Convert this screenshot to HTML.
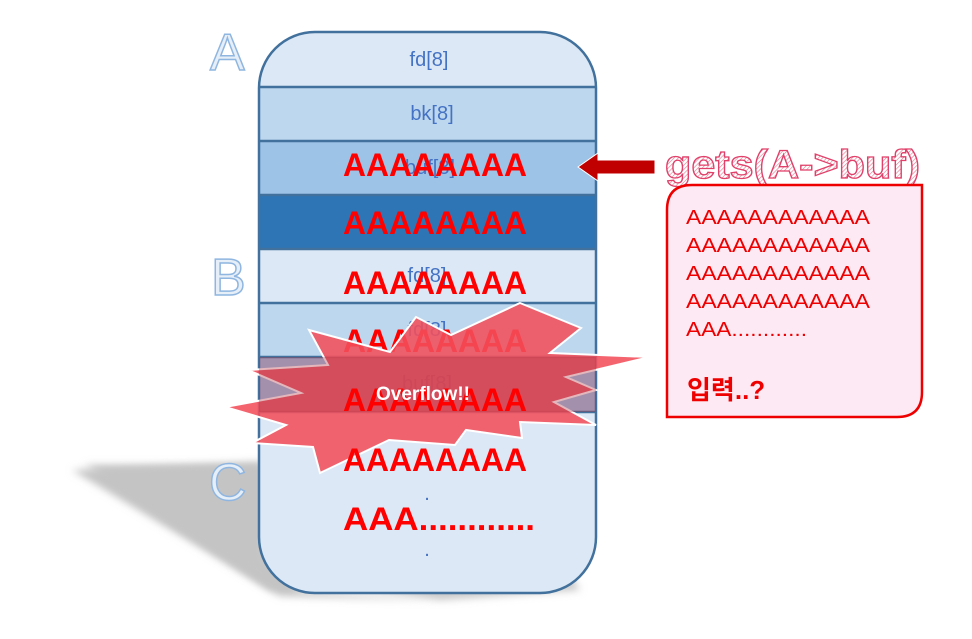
<!DOCTYPE html>
<html><head><meta charset="utf-8"><style>
html,body{margin:0;padding:0;background:#fff;width:972px;height:639px;overflow:hidden}
svg{display:block}
text{font-family:"Liberation Sans","Noto Sans CJK KR",sans-serif}
</style></head><body>
<svg width="972" height="639" viewBox="0 0 972 639" xmlns="http://www.w3.org/2000/svg">
<defs>
<clipPath id="box"><rect x="259" y="32" width="337" height="561" rx="56"/></clipPath>
<filter id="blur"><feGaussianBlur stdDeviation="4"/></filter>
<pattern id="hatch" width="3" height="3" patternUnits="userSpaceOnUse" patternTransform="rotate(45)"><rect width="3" height="3" fill="#fff"/><line x1="0" y1="0" x2="0" y2="3" stroke="#e07a90" stroke-width="1.2"/></pattern>
</defs>
<polygon points="85,465 260,465 300,580 440,600 580,590 560,560 270,590" fill="#c8c8c8" filter="url(#blur)"/>
<polygon points="72,470 262,462 262,560 300,590 430,600 280,596" fill="#c4c4c4" filter="url(#blur)"/>
<g clip-path="url(#box)">
<rect x="259" y="32" width="337" height="561" fill="#dce8f5"/>
<rect x="259" y="87" width="337" height="54" fill="#bdd7ee"/>
<rect x="259" y="141" width="337" height="54" fill="#9dc3e6"/>
<rect x="259" y="195" width="337" height="54" fill="#2e75b6"/>
<rect x="259" y="249" width="337" height="54" fill="#dce8f5"/>
<rect x="259" y="303" width="337" height="54" fill="#bdd7ee"/>
<rect x="259" y="357" width="337" height="55" fill="#9dc3e6"/>
<g stroke="#41719c" stroke-width="2.5">
<line x1="259" y1="87" x2="596" y2="87"/><line x1="259" y1="141" x2="596" y2="141"/>
<line x1="259" y1="195" x2="596" y2="195"/><line x1="259" y1="249" x2="596" y2="249"/>
<line x1="259" y1="303" x2="596" y2="303"/><line x1="259" y1="357" x2="596" y2="357"/>
<line x1="259" y1="412" x2="596" y2="412"/>
</g>
</g>
<rect x="259" y="32" width="337" height="561" rx="56" fill="none" stroke="#41719c" stroke-width="2.5"/>
<g fill="#4472c4" font-size="20" text-anchor="middle">
<text x="429" y="66">fd[8]</text><text x="432" y="120">bk[8]</text><text x="430" y="174">buf[8]</text>
<text x="427" y="282">fd[8]</text><text x="427" y="336">fd[8]</text><text x="427" y="390">buf[8]</text>
<text x="427" y="500">.</text><text x="427" y="556">.</text>
</g>
<g font-size="52" fill="#e6eef8" stroke="#8fb6e0" stroke-width="1.5">
<text x="210" y="70">A</text><text x="211" y="295">B</text><text x="209" y="500">C</text>
</g>
<g fill="#ff0000" font-weight="bold" font-size="32">
<text x="343" y="176" textLength="184" lengthAdjust="spacingAndGlyphs">AAAAAAAA</text>
<text x="343" y="234" textLength="184" lengthAdjust="spacingAndGlyphs">AAAAAAAA</text>
<text x="343" y="294" textLength="184" lengthAdjust="spacingAndGlyphs">AAAAAAAA</text>
<text x="343" y="352" textLength="184" lengthAdjust="spacingAndGlyphs">AAAAAAAA</text>
</g>
<polygon points="520,303 581,328 550,353 650,357 566,377 596,390 554,402 596,425 520,422 522,438 466,430 455,445 389,440 320,473 313,447 252,443 286,425 225,407 301,393 248,370 328,365 309,330 390,352 416,317 451,335" fill="#f24e5b" fill-opacity="0.88" stroke="#fff" stroke-width="2"/>
<rect x="259" y="357" width="337" height="55" fill="#b03040" fill-opacity="0.35" clip-path="url(#box)"/>
<g fill="#ff0000" font-weight="bold" font-size="32">
<text x="343" y="411" textLength="184" lengthAdjust="spacingAndGlyphs">AAAAAAAA</text>
<text x="343" y="471" textLength="184" lengthAdjust="spacingAndGlyphs">AAAAAAAA</text>
<text x="343" y="530" textLength="192" lengthAdjust="spacingAndGlyphs">AAA............</text>
</g>
<text x="423" y="400" fill="#fff" font-weight="bold" font-size="19" text-anchor="middle">Overflow!!</text>
<polygon points="578,167 598,153 598,160 655,160 655,174 598,174 598,181" fill="#c00000" stroke="#fff" stroke-width="1"/>
<text x="665" y="178" font-size="40" font-weight="bold" textLength="255" lengthAdjust="spacingAndGlyphs" fill="url(#hatch)" stroke="#e0406a" stroke-width="1.3">gets(A-&gt;buf)</text>
<path d="M692,185 H922 V392 Q922,417 897,417 H667 V210 Q667,185 692,185 Z" fill="#fde9f3" stroke="#ee0000" stroke-width="2.5"/>
<g fill="#ee0000" font-size="20">
<text x="686" y="224" textLength="184" lengthAdjust="spacingAndGlyphs">AAAAAAAAAAAA</text>
<text x="686" y="252" textLength="184" lengthAdjust="spacingAndGlyphs">AAAAAAAAAAAA</text>
<text x="686" y="280" textLength="184" lengthAdjust="spacingAndGlyphs">AAAAAAAAAAAA</text>
<text x="686" y="308" textLength="184" lengthAdjust="spacingAndGlyphs">AAAAAAAAAAAA</text>
<text x="686" y="336" textLength="121" lengthAdjust="spacingAndGlyphs">AAA............</text>
</g>
<text x="687" y="399" fill="#ee0000" font-size="26" font-weight="bold">입력..?</text>
</svg>
</body></html>
